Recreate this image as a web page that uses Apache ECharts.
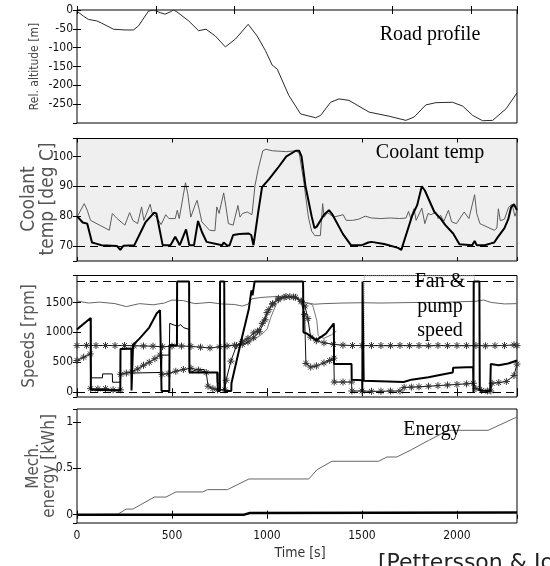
<!DOCTYPE html>
<html><head><meta charset="utf-8">
<script src="https://cdn.jsdelivr.net/npm/echarts@6/dist/echarts.min.js"></script>
<style>html,body{margin:0;padding:0;background:#fff}#c{width:550px;height:566px}</style>
</head><body><div id="c"></div>
<script>
// ---------- DATA ----------
const tMax = 2316;
const roadProfile = [[0,-3],[33,-16],[60,-25],[104,-29],[130,-35],[192,-51],[253,-53],[297,-53],[324,-42],[376,-3],[403,0],[438,-7],[464,-11],[491,-5],[508,0],[526,-5],[588,-29],[640,-55],[679,-51],[728,-69],[781,-98],[834,-77],[901,-38],[948,-69],[992,-108],[1027,-146],[1054,-157],[1115,-227],[1177,-276],[1256,-286],[1282,-280],[1335,-245],[1379,-236],[1432,-240],[1537,-271],[1643,-282],[1731,-293],[1775,-284],[1836,-252],[1889,-246],[1977,-245],[2030,-255],[2083,-280],[2135,-294],[2188,-293],[2259,-262],[2316,-220]];
const coolantThick = [[0,80],[30,77.9],[54,77.5],[79,71.2],[96,70.9],[129,70.3],[211,70],[228,68.7],[244,70.1],[302,70.3],[360,77.9],[406,81.2],[418,80.9],[451,70.3],[492,70.3],[517,73.1],[541,70.3],[574,75.6],[591,70.3],[616,70.3],[637,78.4],[657,74.8],[682,71.4],[764,70.3],[772,71.2],[789,70.3],[802,70.1],[822,73.7],[855,74],[904,74.2],[917,73.7],[929,70.3],[954,81.4],[974,89.7],[1012,92.5],[1053,95.8],[1102,100],[1152,101.9],[1169,101.9],[1182,100],[1202,90.3],[1235,80],[1250,76],[1262,76.5],[1300,80.5],[1326,82],[1345,80.5],[1400,74],[1442,70.3],[1500,70.3],[1533,71.2],[1550,71.4],[1616,70.7],[1641,70.3],[1690,69.4],[1707,68.7],[1715,70.3],[1765,80.3],[1790,83.6],[1815,90],[1831,88.6],[1881,81.4],[1914,79.2],[1939,77],[1980,74.2],[2013,70.6],[2080,70.3],[2093,71.7],[2104,70.3],[2146,70.3],[2179,70.9],[2196,71.2],[2215,73],[2250,76],[2270,79],[2285,83],[2300,84],[2316,82]];
const coolantThin = [[0,79.7],[38,84.2],[54,82],[71,78.6],[170,75.3],[186,80.9],[211,79.2],[252,77],[277,81.2],[294,78.6],[319,77.5],[340,83.1],[352,78.6],[385,84],[396,80.9],[418,79.7],[443,77.2],[467,80.5],[484,79.2],[517,79.2],[528,82],[538,79.2],[571,91.2],[583,87.5],[599,79.7],[621,83.6],[632,85.3],[644,82],[657,78.1],[698,75.3],[726,75.1],[736,83.1],[748,80.9],[772,87.8],[784,83.1],[797,77.5],[822,77],[847,83.6],[858,79.7],[871,80.9],[896,81.4],[921,80.5],[937,90.3],[954,95.8],[978,101.9],[995,102.4],[1028,101.9],[1102,101.6],[1152,101.9],[1170,101],[1194,91.4],[1218,79.7],[1235,75],[1252,73.5],[1281,73.5],[1293,84.2],[1301,79.7],[1318,81.2],[1351,79.7],[1401,80.5],[1417,78.6],[1450,78.6],[1483,79],[1517,80],[1550,79.4],[1599,79.2],[1649,79.4],[1699,79.2],[1732,79.4],[1745,81.6],[1757,79.2],[1774,82.5],[1785,78.6],[1815,82.7],[1831,77.5],[1848,80.9],[1864,80.5],[1889,81.4],[1901,79.2],[1914,80.3],[1931,78.3],[1955,82],[1972,78.1],[1997,77.5],[2038,81.4],[2063,79.2],[2093,87.2],[2104,80.9],[2121,77.5],[2196,75.3],[2210,76],[2218,82.5],[2228,78.5],[2250,79],[2272,83],[2290,84],[2305,80],[2316,82]];
const coolantLimits = [70, 90];
const engineSpeed = [[0,1525],[60,1490],[120,1505],[200,1480],[260,1430],[300,1460],[330,1480],[400,1460],[460,1490],[500,1540],[560,1530],[620,1480],[700,1500],[760,1475],[830,1465],[870,1440],[900,1470],[920,1560],[960,1580],[1000,1590],[1060,1600],[1100,1600],[1150,1580],[1200,1500],[1250,1470],[1300,1480],[1400,1490],[1500,1495],[1600,1490],[1700,1495],[1800,1500],[1900,1500],[2000,1510],[2100,1520],[2140,1540],[2180,1500],[2250,1475],[2316,1480]];
const fanSpeed = [[0,1050],[72,1240],[73,40],[228,30],[229,720],[286,730],[287,30],[294,30],[295,790],[330,900],[380,1080],[420,1320],[437,1370],[444,1360],[445,20],[486,20],[487,790],[526,780],[527,1850],[590,1850],[592,330],[740,330],[741,20],[752,20],[753,1850],[775,1850],[777,20],[812,20],[813,150],[860,800],[905,1400],[918,1700],[924,1620],[935,1850],[1190,1850],[1192,1000],[1210,980],[1260,870],[1310,980],[1352,1150],[1353,470],[1445,470],[1446,210],[1501,200],[1502,0],[1503,1850],[1508,1850],[1509,190],[1720,170],[1760,210],[1850,250],[1930,300],[1978,330],[1980,410],[2085,420],[2087,0],[2088,1850],[2118,1850],[2120,30],[2175,20],[2178,470],[2220,450],[2270,480],[2316,530]];
const pumpSpeed = [[73,1240],[74,240],[134,240],[135,306],[186,306],[187,167],[228,167],[229,720],[287,730],[288,320],[445,330],[447,620],[486,620],[488,1150],[530,1100],[545,1130],[560,1080],[590,1050],[592,320],[630,380],[670,380],[672,330],[736,330],[738,150],[752,150],[753,40],[778,40]];
const fanSpeed2 = [[0,780],[50,782],[100,780],[150,781],[200,779],[250,781],[300,776],[350,773],[400,768],[450,760],[500,770],[550,772],[600,766],[650,752],[700,740],[750,758],[790,772],[830,785],[870,800],[900,840],[930,910],[960,1010],[990,1210],[1010,1380],[1030,1470],[1060,1545],[1090,1585],[1120,1595],[1150,1585],[1180,1520],[1200,1440],[1215,1230],[1230,920],[1260,860],[1300,825],[1350,800],[1400,785],[1450,780],[1500,780],[1550,780],[1600,780],[1650,778],[1700,782],[1750,778],[1800,780],[1850,776],[1900,782],[1950,778],[2000,780],[2050,778],[2100,780],[2150,775],[2200,778],[2250,780],[2300,790],[2316,780]];
const pumpSpeed2 = [[0,530],[35,585],[70,640],[72,60],[110,55],[150,60],[190,40],[228,40],[230,300],[260,320],[290,340],[320,390],[350,450],[380,500],[410,560],[437,620],[447,300],[480,310],[520,350],[560,380],[600,400],[640,370],[680,330],[690,100],[715,60],[740,40],[778,40],[785,200],[810,520],[840,780],[870,850],[900,900],[930,990],[950,1020],[975,1150],[1000,1330],[1030,1480],[1060,1570],[1100,1600],[1140,1590],[1180,1520],[1198,1300],[1205,480],[1230,420],[1260,440],[1300,490],[1330,530],[1352,570],[1354,170],[1400,170],[1445,170],[1447,20],[1500,20],[1550,15],[1600,15],[1650,20],[1700,20],[1722,80],[1760,85],[1800,90],[1850,100],[1900,110],[1950,120],[2000,130],[2050,140],[2086,150],[2100,60],[2130,30],[2160,20],[2178,20],[2185,150],[2220,160],[2260,180],[2300,280],[2316,470]];
const pumpSpeedRef = [[800,780],[850,790],[900,820],[940,900],[970,960],[1000,1050],[1020,1250],[1050,1480],[1080,1570],[1120,1600],[1160,1580],[1200,1500],[1240,1460],[1262,1200],[1270,940],[1300,900],[1340,960],[1365,1020]];
const speedLimits = [0, 1850];
const energyA = [[0,0],[215,0.005],[259,0.06],[294,0.06],[407,0.19],[468,0.19],[521,0.245],[661,0.245],[687,0.27],[792,0.27],[905,0.385],[1220,0.385],[1264,0.486],[1342,0.576],[1587,0.576],[1631,0.622],[1683,0.622],[1760,0.7],[1850,0.8],[1954,0.91],[2164,0.91],[2304,1.043],[2316,1.05]];
const energyB = [[0,0],[880,0],[910,0.018],[2316,0.022]];
const legendBox = [[1512,770],[2092,1944]];

// ---------- CHART ----------
const chart = echarts.init(document.getElementById('c'), null, {renderer:'canvas'});
const NARROW = "'Liberation Sans Narrow','DejaVu Sans Condensed',sans-serif";
const SERIF = "'Liberation Serif','DejaVu Serif',serif";
const GL = 77, GR = 33;
const grids = [
  {left:GL,right:GR,top:10,height:113},
  {left:GL,right:GR,top:138.5,height:122.5,backgroundColor:'#efefef'},
  {left:GL,right:GR,top:275.5,height:121.5},
  {left:GL,right:GR,top:409,height:114}
].map(g=>Object.assign({show:true,borderColor:'#000',borderWidth:1},g));

const tick = {show:true,inside:true,length:4,lineStyle:{color:'#000',width:1}};
const fmt = v => String(v);
const xAxes=[], yAxes=[];
const yCfg = [
  {min:-300,max:0,interval:50},
  {min:65,max:106,minInterval:10,maxInterval:10},
  {min:-80,max:1950,minInterval:500,maxInterval:500},
  {min:-0.09,max:1.14,minInterval:0.5,maxInterval:0.5}
];
for(let i=0;i<4;i++){
  const iv = i===0?415:500;
  ['bottom','top'].forEach(pos=>{
    xAxes.push({type:'value',gridIndex:i,position:pos,min:0,max:tMax,interval:iv,
      axisLine:{show:false},axisTick:tick,splitLine:{show:false},
      axisLabel:{show:(i===3&&pos==='bottom'),formatter:fmt,fontFamily:NARROW,fontSize:12,color:'#111',margin:7,showMaxLabel:false}});
  });
  ['left','right'].forEach(pos=>{
    yAxes.push(Object.assign({type:'value',gridIndex:i,position:pos,
      axisLine:{show:false},axisTick:tick,splitLine:{show:false},
      axisLabel:{show:pos==='left',formatter:fmt,fontFamily:NARROW,fontSize:12,color:'#111',margin:4,showMinLabel:false,showMaxLabel:i===0}},yCfg[i]));
  });
}

const star = 'path://M0,-10L0,10M-10,0L10,0M-7,-7L7,7M-7,7L7,-7';
function line(gi,data,color,width,extra){
  return Object.assign({type:'line',xAxisIndex:2*gi,yAxisIndex:2*gi,data:data,showSymbol:false,
    lineStyle:{color:color,width:width},silent:true,animation:false},extra||{});
}
function dashed(gi,vals){
  return {type:'line',xAxisIndex:2*gi,yAxisIndex:2*gi,data:[],silent:true,animation:false,
    markLine:{symbol:'none',silent:true,animation:false,label:{show:false},
      lineStyle:{color:'#000',width:1,type:[8,5]},data:vals.map(v=>({yAxis:v}))}};
}
function starLine(gi,data){
  return line(gi,data,'#111',1,{showSymbol:true,showAllSymbol:true,symbol:star,symbolSize:7,
    itemStyle:{color:'rgba(0,0,0,0)',borderColor:'#333',borderWidth:1}});
}

const series = [
  line(0,roadProfile,'#2a2a2a',1),
  dashed(1,coolantLimits),
  line(1,coolantThin,'#5e5e5e',1),
  line(1,coolantThick,'#000',2),
  dashed(2,speedLimits),
  line(2,engineSpeed,'#666',1),
  line(2,pumpSpeedRef,'#777',1),
  starLine(2,fanSpeed2),
  starLine(2,pumpSpeed2),
  line(2,pumpSpeed,'#000',1),
  {type:'line',xAxisIndex:4,yAxisIndex:4,data:[],z:3,silent:true,animation:false,
    markArea:{silent:true,animation:false,itemStyle:{color:'rgba(255,255,255,0.62)',borderColor:'#9a9a9a',borderWidth:1,borderType:'dotted'},
      data:[[{xAxis:legendBox[0][0],yAxis:legendBox[0][1]},{xAxis:legendBox[1][0],yAxis:legendBox[1][1]}]]}},
  line(2,fanSpeed,'#000',2,{z:4}),
  line(3,energyA,'#666',1),
  line(3,energyB,'#000',2.5)
];

function txt(x,y,s,font,size,color,extra){
  return Object.assign({type:'text',x:x,y:y,z:100,silent:true,
    style:{text:s,fontFamily:font,fontSize:size,fill:color,align:'center',verticalAlign:'middle'}},extra||{});
}
const rot = {rotation:Math.PI/2};
const graphic = [
  txt(430,35,'Road profile',SERIF,20,'#000'),
  txt(430,153,'Coolant temp',SERIF,20,'#000'),
  txt(440,306.5,'Fan &\npump\nspeed',SERIF,20,'#000'),
  txt(432,430,'Energy',SERIF,20,'#000'),
  txt(35,66.5,'Rel. altitude [m]',NARROW,12,'#444',rot),
  txt(38.5,199,'Coolant\ntemp [deg C]',NARROW,19,'#555',rot),
  txt(30,336,'Speeds [rpm]',NARROW,17,'#555',rot),
  txt(42,466,'Mech.\nenergy [kWh]',NARROW,17,'#555',rot),
  txt(300,553,'Time [s]',NARROW,14,'#333'),
  {type:'text',x:378,y:552,z:100,silent:true,style:{text:'[Pettersson & Johansson]',fontFamily:"'DejaVu Sans',sans-serif",fontSize:22,fill:'#222',align:'left',verticalAlign:'top'}}
];
graphic[2].style.lineHeight = 24.5;
graphic[5].style.lineHeight = 19;
graphic[7].style.lineHeight = 16;

chart.setOption({animation:false,backgroundColor:'#fff',grid:grids,xAxis:xAxes,yAxis:yAxes,series:series,graphic:graphic});
</script></body></html>
